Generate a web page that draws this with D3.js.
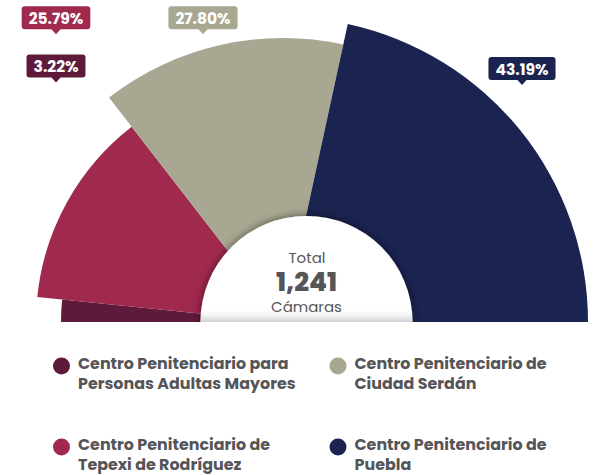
<!DOCTYPE html>
<html>
<head>
<meta charset="utf-8">
<script src="https://cdn.jsdelivr.net/npm/d3@7"></script>
<style>
  html, body { margin: 0; padding: 0; background: #fff; }
  svg { display: block; font-family: Poppins, Inter, "Open Sans", sans-serif; }
</style>
</head>
<body>
<svg id="chart" width="604" height="475"></svg>
<script>
// ---- data ----
const categories = [
  "Centro Penitenciario para Personas Adultas Mayores",
  "Centro Penitenciario de Tepexi de Rodríguez",
  "Centro Penitenciario de Ciudad Serdán",
  "Centro Penitenciario de Puebla"
];
const legendLines = [
  ["Centro Penitenciario para", "Personas Adultas Mayores"],
  ["Centro Penitenciario de", "Tepexi de Rodríguez"],
  ["Centro Penitenciario de", "Ciudad Serdán"],
  ["Centro Penitenciario de", "Puebla"]
];
const percents = [3.22, 25.79, 27.80, 43.19];
const totalLabel = "Total";
const totalValue = "1,241";
const totalUnit = "Cámaras";

// ---- styles / layout ----
const colors = ["#5e1a3b", "#a0294e", "#a8a791", "#1b2350"];
const outerRadii = [222, 247, 284, 305];
const pieCenter = [283, 322];
const holeCenter = [306.5, 322];
const holeR = 106;
const labelTips = [[56, 82.5], [56, 34.3], [203, 34.3], [522, 85]];
const legendPos = [[61.5, 366], [61.5, 447], [338, 366], [338, 447]];
const textGray = "#555557";

const svg = d3.select("#chart");
const defs = svg.append("defs");

const clip = defs.append("clipPath").attr("id", "topHalf");
clip.append("rect").attr("x", 0).attr("y", 0).attr("width", 604).attr("height", 322);

const f = defs.append("filter").attr("id", "shadow")
  .attr("x", "-30%").attr("y", "-30%").attr("width", "160%").attr("height", "160%");
f.append("feDropShadow").attr("dx", 0).attr("dy", 0).attr("stdDeviation", 4)
  .attr("flood-color", "#000").attr("flood-opacity", 0.55);

const grad = defs.append("linearGradient").attr("id", "bottomFade")
  .attr("x1", 0).attr("y1", 0).attr("x2", 0).attr("y2", 1);
grad.append("stop").attr("offset", "0%").attr("stop-color", "#ffffff").attr("stop-opacity", 0);
grad.append("stop").attr("offset", "100%").attr("stop-color", "#cfd0d2").attr("stop-opacity", 1);

const holeClip = defs.append("clipPath").attr("id", "holeClip");
holeClip.append("circle").attr("cx", holeCenter[0]).attr("cy", holeCenter[1]).attr("r", holeR);

const pie = d3.pie().sort(null).value(d => d)
  .startAngle(-Math.PI / 2).endAngle(Math.PI / 2);
const arcs = pie(percents);

const g = svg.append("g").attr("clip-path", "url(#topHalf)");
const pg = g.append("g").attr("transform", `translate(${pieCenter[0]},${pieCenter[1]})`);
pg.selectAll("path").data(arcs).join("path")
  .attr("d", (d, i) => d3.arc().innerRadius(0).outerRadius(outerRadii[i])(d))
  .attr("fill", (d, i) => colors[i]);

// inner white circle with shadow
g.append("circle").attr("cx", holeCenter[0]).attr("cy", holeCenter[1]).attr("r", holeR)
  .attr("fill", "#fff").attr("filter", "url(#shadow)");
g.append("rect").attr("clip-path", "url(#holeClip)")
  .attr("x", holeCenter[0] - holeR).attr("y", 308).attr("width", holeR * 2).attr("height", 14)
  .attr("fill", "url(#bottomFade)");

// center texts
const ct = svg.append("g").attr("text-anchor", "middle").attr("fill", textGray);
ct.append("text").attr("x", 307).attr("y", 262.5).attr("font-size", 15).text(totalLabel);
ct.append("text").attr("x", 306.5).attr("y", 291).attr("font-size", 26).attr("font-weight", 800).text(totalValue);
ct.append("text").attr("x", 306.5).attr("y", 312).attr("font-size", 15).text(totalUnit);

// callout labels
const lg = svg.append("g");
arcs.forEach((a, i) => {
  const [tx, ty] = labelTips[i];
  const grp = lg.append("g");
  const t = grp.append("text").attr("x", tx).attr("y", ty - 10.5)
    .attr("text-anchor", "middle").attr("fill", "#fff")
    .attr("font-size", 15.5).attr("font-weight", 700)
    .text(percents[i].toFixed(2) + "%");
  const w = t.node().getComputedTextLength() + 14;
  const h = 23;
  const bx = tx - w / 2, by = ty - 5 - h;
  grp.insert("rect", "text").attr("x", bx).attr("y", by).attr("width", w).attr("height", h)
    .attr("rx", 3).attr("fill", colors[i]);
  grp.insert("path", "text")
    .attr("d", `M${tx - 5},${by + h - 0.5} L${tx},${ty} L${tx + 5},${by + h - 0.5} Z`)
    .attr("fill", colors[i]);
});

// legend
const leg = svg.append("g");
categories.forEach((c, i) => {
  const [cx, cy] = legendPos[i];
  leg.append("circle").attr("cx", cx).attr("cy", cy).attr("r", 8.5).attr("fill", colors[i]);
  const t = leg.append("text").attr("x", cx + 16.5).attr("y", cy + 3)
    .attr("fill", textGray).attr("font-size", 15.9).attr("font-weight", 700);
  legendLines[i].forEach((ln, j) => {
    t.append("tspan").attr("x", cx + 16.5).attr("dy", j === 0 ? 0 : 20).text(ln);
  });
});
</script>
</body>
</html>
